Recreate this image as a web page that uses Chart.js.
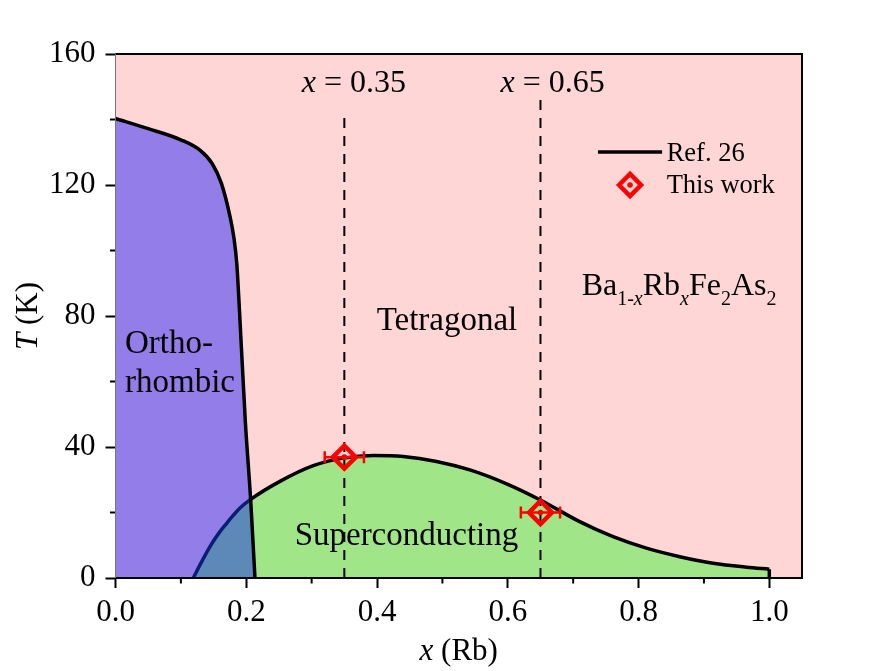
<!DOCTYPE html>
<html>
<head>
<meta charset="utf-8">
<script src="https://cdn.jsdelivr.net/npm/chart.js@4.4.0/dist/chart.umd.min.js"></script>
<style>
  body { margin: 0; background: #fff; }
</style>
</head>
<body>
<canvas id="phase_chart" width="889" height="671"></canvas>
<script>
// Ba1-xRbxFe2As2 phase diagram
const orthoX = [0, 0.05, 0.1, 0.13, 0.148, 0.162, 0.175, 0.181, 0.1855, 0.189, 0.1985, 0.2067, 0.2133];
const orthoT = [140.3, 137.2, 133.8, 130.5, 126.5, 120.5, 110.5, 104, 96, 84, 48, 24, 0];

const domeX = [0.119, 0.13, 0.1445, 0.157, 0.17, 0.18, 0.19, 0.2067, 0.2515, 0.3025, 0.348, 0.394, 0.44, 0.491, 0.542, 0.6, 0.649, 0.71, 0.761, 0.812, 0.863, 0.914, 0.965, 1.0];
const domeT = [0, 4.3, 9.6, 13.4, 16.7, 19.1, 21.3, 24, 29.5, 34.3, 36.6, 37.4, 37.1, 35.6, 33, 28.6, 23.9, 17.2, 12.6, 9.1, 6.5, 4.5, 3.3, 2.7];

const workX = [0.35, 0.65];
const workT = [36.9, 20.0];
const workErr = [0.03, 0.03];

const markX = [0.35, 0.65];
const markTop = [141.6, 146.8];

const xMinor = [0.1, 0.3, 0.5, 0.7, 0.9];
const yMinor = [20, 60, 100, 140];

const PINK = "#FFD6D6";
const PURPLE = "#937DE8";
const GREEN = "#A0E689";
const STEEL = "#5C89B8";
const NAVY = "#0B1D74";
const RED = "#FF0000";
const SERIF = "Liberation Serif";

const pts = (xs, ys) => xs.map((x, i) => ({ x: x, y: ys[i] }));
const font = (size, italic) => (italic ? "italic " : "") + size + 'px "' + SERIF + '"';

// blue patch where the dome sits inside the orthorhombic region
const overlap = pts(domeX.slice(0, 8), domeT.slice(0, 8)).concat(pts(orthoX.slice(-1), orthoT.slice(-1)));

const datasets = [];

datasets.push({
  data: pts(workX, workT),
  showLine: false,
  pointStyle: "circle",
  pointRadius: 2.8,
  pointBackgroundColor: RED,
  pointBorderWidth: 0,
  order: 0,
});
datasets.push({
  data: pts(workX, workT),
  showLine: false,
  pointStyle: "rectRot",
  pointRadius: 11.5,
  pointBorderWidth: 4.5,
  pointBorderColor: RED,
  pointBackgroundColor: "transparent",
  order: 1,
});
workX.forEach((x, i) => {
  datasets.push({
    data: [{ x: x - workErr[i], y: workT[i] }, { x: x + workErr[i], y: workT[i] }],
    borderColor: RED,
    borderWidth: 2.5,
    pointStyle: "line",
    pointRotation: 90,
    pointRadius: 6,
    pointBorderWidth: 2.5,
    pointBorderColor: RED,
    order: 2,
  });
});
datasets.push({
  data: pts(orthoX, orthoT),
  borderColor: "#000",
  borderWidth: 3.5,
  pointRadius: 0,
  cubicInterpolationMode: "monotone",
  order: 3,
});
datasets.push({
  data: pts(domeX, domeT),
  borderColor: "#000",
  borderWidth: 3.5,
  pointRadius: 0,
  cubicInterpolationMode: "monotone",
  segment: {
    borderColor: (c) => (c.p1.parsed.x <= 0.2067 ? NAVY : "#000"),
  },
  order: 4,
});
datasets.push({
  data: [{ x: domeX[domeX.length - 1], y: domeT[domeT.length - 1] }, { x: domeX[domeX.length - 1], y: 0 }],
  borderColor: "#000",
  borderWidth: 3.5,
  pointRadius: 0,
  order: 4,
});
markX.forEach((x, i) => {
  datasets.push({
    data: [{ x: x, y: 0 }, { x: x, y: markTop[i] }],
    borderColor: "#000",
    borderWidth: 2,
    borderDash: [10, 8],
    pointRadius: 0,
    order: 5,
  });
});
const fills = [
  [overlap, STEEL, 6],
  [pts(orthoX, orthoT), PURPLE, 7],
  [pts(domeX, domeT), GREEN, 8],
];
fills.forEach(([data, color, order]) => {
  datasets.push({
    data: data,
    borderColor: "transparent",
    borderWidth: 0,
    pointRadius: 0,
    backgroundColor: color,
    fill: "origin",
    cubicInterpolationMode: "monotone",
    order: order,
  });
});

const notes = [
  { x: 0.0145, y: 68.6, size: 33, runs: [{ t: "Ortho-" }] },
  { x: 0.0145, y: 56.9, size: 33, runs: [{ t: "rhombic" }] },
  { x: 0.507, y: 75.7, size: 33, align: "center", runs: [{ t: "Tetragonal" }] },
  { x: 0.445, y: 10.1, size: 33, align: "center", runs: [{ t: "Superconducting" }] },
  { x: 0.285, y: 148.3, size: 32, runs: [{ t: "x", it: true }, { t: " = 0.35" }] },
  { x: 0.589, y: 148.3, size: 32, runs: [{ t: "x", it: true }, { t: " = 0.65" }] },
  { x: 0.713, y: 86.4, size: 32, runs: [
    { t: "Ba" }, { t: "1-", sub: true }, { t: "x", sub: true, it: true },
    { t: "Rb" }, { t: "x", sub: true, it: true },
    { t: "Fe" }, { t: "2", sub: true },
    { t: "As" }, { t: "2", sub: true },
  ] },
  { x: 0.843, y: 127.3, size: 26.5, runs: [{ t: "Ref. 26" }] },
  { x: 0.843, y: 117.6, size: 26.5, runs: [{ t: "This work" }] },
];

function drawRuns(ctx, runs, x, y, size, align) {
  const subSize = Math.round(size * 0.62);
  let w = 0;
  runs.forEach((r) => {
    ctx.font = font(r.sub ? subSize : size, r.it);
    w += ctx.measureText(r.t).width;
  });
  let cx = align === "center" ? x - w / 2 : x;
  runs.forEach((r) => {
    ctx.font = font(r.sub ? subSize : size, r.it);
    ctx.fillText(r.t, cx, y + (r.sub ? size * 0.32 : 0));
    cx += ctx.measureText(r.t).width;
  });
}

const background = {
  id: "background",
  beforeDraw(chart) {
    const { ctx, chartArea: a } = chart;
    ctx.save();
    ctx.fillStyle = PINK;
    ctx.fillRect(a.left, a.top, a.right - a.left, a.bottom - a.top);
    ctx.restore();
  },
};

const frame = {
  id: "frame",
  afterDatasetsDraw(chart) {
    const { ctx, chartArea: a, scales } = chart;
    ctx.save();
    ctx.strokeStyle = "#000";
    ctx.lineWidth = 2;
    xMinor.forEach((v) => {
      const px = scales.x.getPixelForValue(v);
      ctx.beginPath();
      ctx.moveTo(px, a.bottom);
      ctx.lineTo(px, a.bottom + 5.5);
      ctx.stroke();
    });
    yMinor.forEach((v) => {
      const py = scales.y.getPixelForValue(v);
      ctx.beginPath();
      ctx.moveTo(a.left, py);
      ctx.lineTo(a.left - 5.5, py);
      ctx.stroke();
    });
    ctx.beginPath();
    ctx.moveTo(a.left, a.top);
    ctx.lineTo(a.right, a.top);
    ctx.lineTo(a.right, a.bottom);
    ctx.lineTo(a.left, a.bottom);
    ctx.stroke();
    ctx.strokeStyle = "#777";
    ctx.lineWidth = 1;
    ctx.beginPath();
    ctx.moveTo(a.left, a.top);
    ctx.lineTo(a.left, a.bottom);
    ctx.stroke();
    ctx.restore();
  },
};

const labels = {
  id: "labels",
  afterDatasetsDraw(chart) {
    const { ctx, chartArea: a, scales } = chart;
    ctx.save();
    ctx.fillStyle = "#000";
    ctx.textBaseline = "alphabetic";
    ctx.textAlign = "left";
    notes.forEach((n) => {
      drawRuns(ctx, n.runs, scales.x.getPixelForValue(n.x), scales.y.getPixelForValue(n.y), n.size, n.align);
    });

    // legend symbols
    const ly = scales.y.getPixelForValue(130.1);
    ctx.strokeStyle = "#000";
    ctx.lineWidth = 3.5;
    ctx.beginPath();
    ctx.moveTo(scales.x.getPixelForValue(0.738), ly);
    ctx.lineTo(scales.x.getPixelForValue(0.836), ly);
    ctx.stroke();
    const dx = scales.x.getPixelForValue(0.787);
    const dy = scales.y.getPixelForValue(120);
    const r = 11;
    ctx.strokeStyle = RED;
    ctx.lineWidth = 4.5;
    ctx.beginPath();
    ctx.moveTo(dx - r, dy);
    ctx.lineTo(dx, dy - r);
    ctx.lineTo(dx + r, dy);
    ctx.lineTo(dx, dy + r);
    ctx.closePath();
    ctx.stroke();
    ctx.fillStyle = RED;
    ctx.beginPath();
    ctx.arc(dx, dy, 2.8, 0, Math.PI * 2);
    ctx.fill();

    // axis titles
    ctx.fillStyle = "#000";
    drawRuns(ctx, [{ t: "x", it: true }, { t: " (Rb)" }], (a.left + a.right) / 2, 660, 31, "center");
    ctx.translate(37, (a.top + a.bottom) / 2);
    ctx.rotate(-Math.PI / 2);
    drawRuns(ctx, [{ t: "T", it: true }, { t: " (K)" }], 0, 0, 31, "center");
    ctx.restore();
  },
};

Chart.defaults.font.family = SERIF;
Chart.defaults.color = "#000";

new Chart(document.getElementById("phase_chart").getContext("2d"), {
  type: "line",
  data: { datasets: datasets },
  options: {
    responsive: false,
    animation: false,
    events: [],
    layout: { padding: { top: 54, right: 87, left: 0, bottom: 0 } },
    plugins: { legend: { display: false }, tooltip: { enabled: false } },
    scales: {
      x: {
        type: "linear",
        min: 0,
        max: 1.05,
        afterFit: (s) => { s.height = 93; },
        border: { display: false },
        grid: { drawOnChartArea: false, tickLength: 10, tickColor: "#000", tickWidth: 2 },
        ticks: {
          stepSize: 0.2,
          includeBounds: false,
          padding: 6,
          font: { size: 31 },
          maxRotation: 0,
          callback: (v) => v.toFixed(1),
        },
      },
      y: {
        min: 0,
        max: 160,
        afterFit: (s) => { s.width = 115.5; },
        border: { display: false },
        grid: { drawOnChartArea: false, tickLength: 10, tickColor: "#000", tickWidth: 2 },
        ticks: { stepSize: 40, padding: 10, font: { size: 31 } },
      },
    },
  },
  plugins: [background, frame, labels],
});
</script>
</body>
</html>
